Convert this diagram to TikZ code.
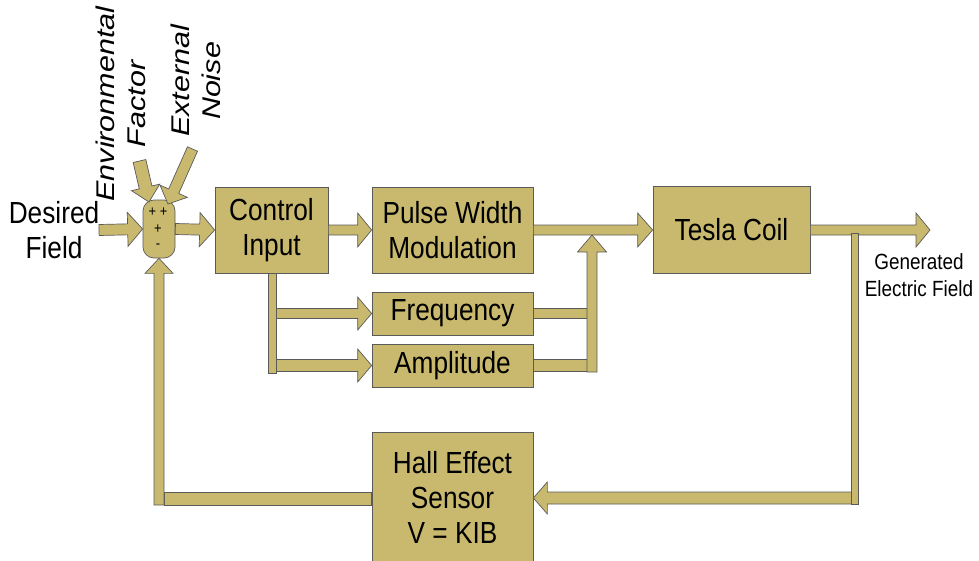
\documentclass[tikz,border=0pt]{standalone}
\usepackage{fontspec}
\setmainfont{Liberation Sans}[FakeStretch=0.86]
\newfontfamily\rotfont{Liberation Sans}
\usepackage{graphicx}
\usetikzlibrary{calc}
\definecolor{tanfill}{RGB}{201,185,110}
\definecolor{edgegray}{RGB}{90,90,90}
\tikzset{
  arr/.style={fill=tanfill, draw=edgegray, line width=0.7pt, line join=miter},
  blockbox/.style={rectangle, fill=tanfill, draw=edgegray, line width=0.7pt, inner sep=0pt,
    align=center, font=\fontsize{30.5}{35}\selectfont},
  lbl/.style={inner sep=0pt, align=center, font=\fontsize{30.5}{35}\selectfont},
  signlbl/.style={inner sep=0pt, font=\fontsize{15}{16}\selectfont},
}
% #1 start, #2 tip, #3 shaft half width, #4 head half width, #5 head length
\newcommand{\blockarrow}[5]{%
  \path ($(#2)!#5!(#1)$) coordinate (hb);
  \filldraw[arr] ($(#1)!#3!90:(#2)$) -- ($(hb)!#3!-90:(#1)$) -- ($(hb)!#4!-90:(#1)$)
    -- (#2) -- ($(hb)!#4!90:(#1)$) -- ($(hb)!#3!90:(#1)$) -- ($(#1)!#3!-90:(#2)$) -- cycle;
}
\begin{document}
\begin{tikzpicture}[x=1pt,y=-1pt]
\useasboundingbox (0,0) rectangle (979,560);

% blocks
\node[blockbox, minimum width=113pt, minimum height=86pt] (ctrl) at (271.5,230) {Control\\Input};
\node[blockbox, minimum width=161pt, minimum height=86pt] (pwm) at (452.5,230) {Pulse Width\\Modulation};
\node[blockbox, minimum width=157pt, minimum height=87pt] (tesla) at (731.5,230) {Tesla Coil};
\node[blockbox, minimum width=161pt, minimum height=43pt] (freq) at (452.5,313.5) {Frequency};
\node[blockbox, minimum width=161pt, minimum height=43pt] (amp) at (452.5,365.5) {Amplitude};
\node[blockbox, minimum width=161pt, minimum height=131pt] (hall) at (452.5,497.5) {Hall Effect\\Sensor\\V = KIB};

% summing junction
\node[rectangle, rounded corners=11pt, fill=tanfill, draw=edgegray, line width=0.7pt,
  minimum width=32pt, minimum height=58pt, inner sep=0pt] (sum) at (159,229) {};
\node[signlbl] (s1) at (158,212) {+ +};
\node[signlbl] (s2) at (158,229) {+};
\node[signlbl] (s3) at (158,246) {-};

% labels
\node[lbl] (des) at (54,230) {Desired\\Field};
\node[inner sep=0pt, align=center, font=\fontsize{22}{27}\selectfont] (gen) at (919,275) {Generated\\Electric Field};
\node[inner sep=0pt, rotate=90] (env) at (124,104)
  {\scalebox{1}[0.84]{\rotfont\itshape\fontsize{30.5}{36}\selectfont\begin{tabular}{@{}c@{}}Environmental\\Factor\end{tabular}}};
\node[inner sep=0pt, rotate=90] (ext) at (199,81)
  {\scalebox{1}[0.84]{\rotfont\itshape\fontsize{30.5}{36}\selectfont\begin{tabular}{@{}c@{}}External\\Noise\end{tabular}}};

% coordinates
\coordinate (dstart) at (99,230);
\coordinate (envs) at (139.5,161);
\coordinate (envt) at (149,202);
\coordinate (exts) at (192.5,149);
\coordinate (extt) at (168,204);
\coordinate (brtop) at ($(ctrl.south)+(0.5,0)$);
\coordinate (frs) at (272,313.5);
\coordinate (ams) at (272,365.5);
\coordinate (upbot) at (592,372);
\coordinate (uptip) at (592,235);
\coordinate (outtip) at (930,230);
\coordinate (fbs) at (858,498);
\coordinate (fbt) at ($(hall.east)+(0,0.5)$);
\coordinate (lfb) at (159,505);

% inputs to sum
\blockarrow{dstart}{sum.west}{5.5pt}{17pt}{15pt}
\blockarrow{envs}{envt}{6.5pt}{14.5pt}{15pt}
\blockarrow{exts}{extt}{5.5pt}{15pt}{14pt}

% forward path
\blockarrow{sum.east}{ctrl.west}{5.5pt}{17pt}{15pt}
\blockarrow{ctrl.east}{pwm.west}{5pt}{17pt}{14pt}
\blockarrow{pwm.east}{tesla.west}{5pt}{17pt}{15pt}
\blockarrow{tesla.east}{outtip}{5pt}{17pt}{14pt}

% branch to frequency / amplitude
\blockarrow{frs}{freq.west}{5pt}{16.5pt}{14pt}
\blockarrow{ams}{amp.west}{6pt}{16.5pt}{14pt}
\filldraw[arr] ($(brtop)+(-4,0)$) rectangle ($(brtop)+(4,100)$);

% frequency / amplitude merge
\filldraw[arr] ($(freq.east)+(0,-5)$) rectangle (587,318.5);
\filldraw[arr] ($(amp.east)+(0,-6)$) rectangle (587,371.5);
\blockarrow{upbot}{uptip}{5pt}{14.5pt}{17pt}

% feedback path
\blockarrow{fbs}{fbt}{6pt}{16pt}{14pt}
\filldraw[arr] (851,233) rectangle (858,504);
\filldraw[arr] (164,492.5) rectangle ($(hall.west)+(0,7.5)$);
\blockarrow{lfb}{sum.south}{5pt}{14pt}{15pt}
\end{tikzpicture}
\end{document}
